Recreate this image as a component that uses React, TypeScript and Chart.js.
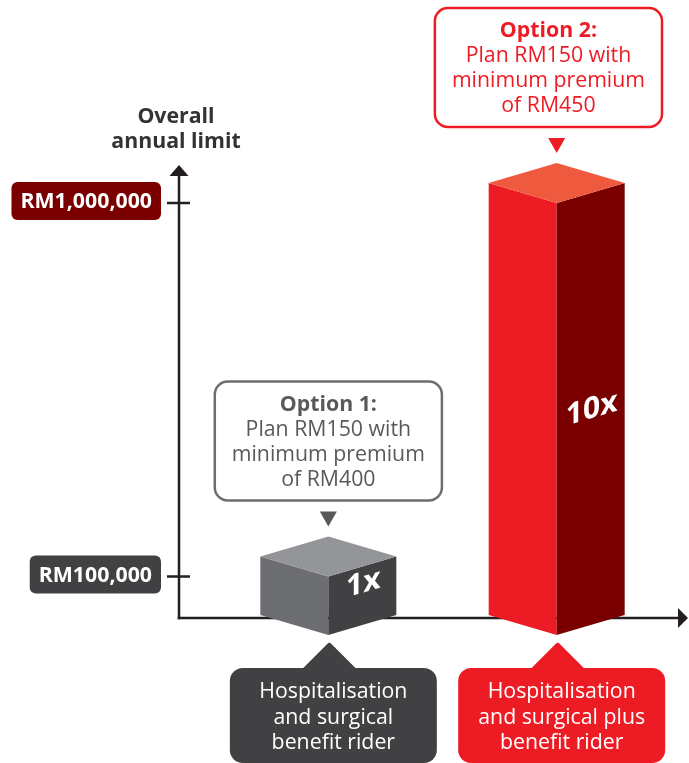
import { useEffect, useRef } from 'react';
import { Chart, registerables } from 'chart.js';

Chart.register(...registerables);

// ---------- data ----------
const categoryLines = [
  ['Hospitalisation', 'and surgical', 'benefit rider'],
  ['Hospitalisation', 'and surgical plus', 'benefit rider'],
];
const annualLimits = [100000, 1000000];
const multiplierLabels = ['1x', '10x'];
const optionTitles = ['Option 1:', 'Option 2:'];
const optionDetails = [
  ['Plan RM150 with', 'minimum premium', 'of RM400'],
  ['Plan RM150 with', 'minimum premium', 'of RM450'],
];
const tickValues = [100000, 1000000];
const tickLabels = ['RM100,000', 'RM1,000,000'];
const axisTitleLines = ['Overall', 'annual limit'];

// ---------- styles ----------
const FONT = '"Open Sans", sans-serif';
const FS = 21.3;
const W = 689;
const H = 763;
const barStyles = [
  { front: '#6d6e71', side: '#414042', top: '#939598', text: '#58595b', border: '#6d6e71', label: '#414042' },
  { front: '#ed1c24', side: '#7a0000', top: '#ef5a3e', text: '#ed1c24', border: '#ed1c24', label: '#ed1c24' },
];
const tickBoxColors = ['#414042', '#7a0000'];
const AXIS_COLOR = '#231f20';
const DEPTH = 20;

function poly(ctx: CanvasRenderingContext2D, pts: number[][], color: string) {
  ctx.beginPath();
  ctx.moveTo(pts[0][0], pts[0][1]);
  for (let i = 1; i < pts.length; i++) ctx.lineTo(pts[i][0], pts[i][1]);
  ctx.closePath();
  ctx.fillStyle = color;
  ctx.fill();
}

const infographicPlugin = {
  id: 'infographic',
  beforeDatasetsDraw(chart: any) {
    const { ctx, chartArea, scales } = chart;
    const y = scales.y;
    const x0 = chartArea.left;
    const y0 = y.getPixelForValue(0);
    const yTop = chartArea.top + 45;
    ctx.save();
    ctx.strokeStyle = AXIS_COLOR;
    ctx.fillStyle = AXIS_COLOR;
    ctx.lineWidth = 2.5;
    // y axis
    ctx.beginPath();
    ctx.moveTo(x0, y0 + 1.25);
    ctx.lineTo(x0, yTop + 8);
    ctx.stroke();
    ctx.beginPath();
    ctx.moveTo(x0, yTop);
    ctx.lineTo(x0 - 9.5, yTop + 11);
    ctx.lineTo(x0 + 9.5, yTop + 11);
    ctx.closePath();
    ctx.fill();
    // x axis
    const xEnd = chartArea.right + 8;
    ctx.beginPath();
    ctx.moveTo(x0 - 1.25, y0);
    ctx.lineTo(xEnd - 8, y0);
    ctx.stroke();
    ctx.beginPath();
    ctx.moveTo(xEnd, y0);
    ctx.lineTo(xEnd - 10, y0 - 10);
    ctx.lineTo(xEnd - 10, y0 + 10);
    ctx.closePath();
    ctx.fill();
    // ticks + tick label boxes
    tickValues.forEach((v, i) => {
      const ty = y.getPixelForValue(v);
      ctx.strokeStyle = AXIS_COLOR;
      ctx.lineWidth = 2.5;
      ctx.beginPath();
      ctx.moveTo(x0 - 12, ty);
      ctx.lineTo(x0 + 11, ty);
      ctx.stroke();
      ctx.font = `bold ${FS}px ${FONT}`;
      const tw = ctx.measureText(tickLabels[i]).width;
      const right = x0 - 18;
      const bw = tw + 18;
      const bh = 38;
      const cy = ty - 2;
      ctx.fillStyle = tickBoxColors[i];
      ctx.beginPath();
      ctx.roundRect(right - bw, cy - bh / 2, bw, bh, 6);
      ctx.fill();
      ctx.fillStyle = '#ffffff';
      ctx.textAlign = 'center';
      ctx.textBaseline = 'middle';
      ctx.fillText(tickLabels[i], right - bw / 2, cy + 1);
    });
    // axis title
    ctx.fillStyle = '#333333';
    ctx.font = `bold ${FS}px ${FONT}`;
    ctx.textAlign = 'center';
    ctx.textBaseline = 'middle';
    axisTitleLines.forEach((t, i) => {
      ctx.fillText(t, x0 - 3, yTop - 48 + i * 25);
    });
    ctx.restore();
  },
  afterDatasetsDraw(chart: any) {
    const { ctx, scales } = chart;
    const zeroY = scales.y.getPixelForValue(0);
    const meta = chart.getDatasetMeta(0);
    ctx.save();
    meta.data.forEach((el: any, i: number) => {
      const { x: cx, y: top, base, width } = el.getProps(['x', 'y', 'base', 'width'], true);
      const hw = width / 2;
      const d = DEPTH;
      const bottom = base + 17;
      const st = barStyles[i];
      poly(ctx, [[cx - hw, top - d], [cx, top], [cx, bottom], [cx - hw, bottom - d]], st.front);
      poly(ctx, [[cx, top], [cx + hw, top - d], [cx + hw, bottom - d], [cx, bottom]], st.side);
      poly(ctx, [[cx, top], [cx - hw, top - d], [cx, top - 2 * d], [cx + hw, top - d]], st.top);
      // multiplier label on the side face
      const tx = cx + hw / 2 + 1;
      const ty = Math.min((top - d / 2 + zeroY) / 2 + 4, zeroY - 34);
      ctx.save();
      ctx.transform(1, -d / hw, 0, 1, tx, ty);
      ctx.fillStyle = '#ffffff';
      ctx.font = `bold 30px ${FONT}`;
      ctx.textAlign = 'center';
      ctx.textBaseline = 'middle';
      ctx.fillText(multiplierLabels[i], 0, 0);
      ctx.restore();
    });
    ctx.restore();
  },
  afterDraw(chart: any) {
    const { ctx } = chart;
    const meta = chart.getDatasetMeta(0);
    ctx.save();
    meta.data.forEach((el: any, i: number) => {
      const { x: cx, y: top, base } = el.getProps(['x', 'y', 'base'], true);
      const st = barStyles[i];
      // ---- option callout above ----
      const backY = top - 2 * DEPTH;
      const tipY = backY - 10;
      ctx.fillStyle = st.text;
      ctx.beginPath();
      ctx.moveTo(cx, tipY);
      ctx.lineTo(cx - 8.5, tipY - 15);
      ctx.lineTo(cx + 8.5, tipY - 15);
      ctx.closePath();
      ctx.fill();
      ctx.font = `${FS}px ${FONT}`;
      let maxW = 0;
      optionDetails[i].forEach((t) => { maxW = Math.max(maxW, ctx.measureText(t).width); });
      const bw = maxW + 34;
      const bh = 119;
      const bBottom = tipY - 26;
      const bTop = bBottom - bh;
      const bcx = Math.min(cx, W - 27 - bw / 2);
      ctx.strokeStyle = st.border;
      ctx.lineWidth = 2.5;
      ctx.fillStyle = '#ffffff';
      ctx.beginPath();
      ctx.roundRect(bcx - bw / 2, bTop, bw, bh, 13);
      ctx.fill();
      ctx.stroke();
      ctx.textAlign = 'center';
      ctx.textBaseline = 'middle';
      ctx.fillStyle = st.text;
      ctx.font = `bold ${FS}px ${FONT}`;
      ctx.fillText(optionTitles[i], bcx, bTop + 23);
      ctx.font = `${FS}px ${FONT}`;
      optionDetails[i].forEach((t, j) => {
        ctx.fillText(t, bcx, bTop + 48 + j * 25);
      });
      // ---- category label below ----
      const lTipY = base + 28;
      const lTop = base + 50;
      const lw = 207;
      const lcx = cx + 5;
      ctx.fillStyle = st.label;
      ctx.strokeStyle = st.label;
      ctx.lineJoin = 'round';
      ctx.lineWidth = 6;
      ctx.beginPath();
      ctx.moveTo(cx + 1, lTipY);
      ctx.lineTo(cx + 1 - 24, lTop + 2);
      ctx.lineTo(cx + 1 + 24, lTop + 2);
      ctx.closePath();
      ctx.fill();
      ctx.stroke();
      ctx.beginPath();
      ctx.roundRect(lcx - lw / 2, lTop, lw, 95, 13);
      ctx.fill();
      ctx.fillStyle = '#ffffff';
      ctx.font = `${FS}px ${FONT}`;
      categoryLines[i].forEach((t, j) => {
        ctx.fillText(t, lcx, lTop + 24 + j * 25.5);
      });
    });
    ctx.restore();
  },
};

export default function App() {
  const canvasRef = useRef<HTMLCanvasElement | null>(null);

  useEffect(() => {
    if (!canvasRef.current) return;
    const chart = new Chart(canvasRef.current, {
      type: 'bar',
      data: {
        datasets: [
          {
            data: annualLimits.map((v, i) => ({ x: i + 1, y: v })) as any,
            backgroundColor: 'rgba(0,0,0,0)',
            borderWidth: 0,
            barThickness: 136,
          },
        ],
      },
      options: {
        animation: false,
        responsive: false,
        devicePixelRatio: 1,
        events: [],
        layout: { padding: { left: 179, right: 9, top: 120, bottom: 145 } },
        scales: {
          x: { type: 'linear', min: 0.346, max: 2.54, offset: false, display: false },
          y: { type: 'linear', min: 0, max: 1200000, display: false },
        },
        plugins: { legend: { display: false }, tooltip: { enabled: false } },
      },
      plugins: [infographicPlugin],
    });
    return () => chart.destroy();
  }, []);

  return (
    <div style={{ position: 'absolute', left: 0, top: 0, width: W, height: H, background: '#ffffff' }}>
      <canvas ref={canvasRef} width={W} height={H} style={{ width: W, height: H, display: 'block' }} />
    </div>
  );
}
